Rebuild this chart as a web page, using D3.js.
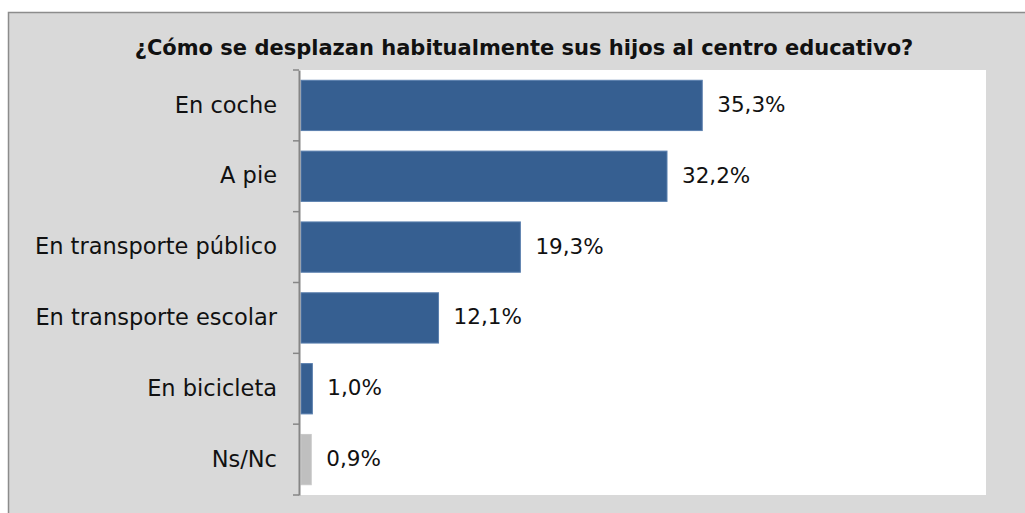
<!DOCTYPE html>
<html>
<head>
<meta charset="utf-8">
<script src="https://cdn.jsdelivr.net/npm/d3@7"></script>
<style>
  html, body { margin: 0; padding: 0; background: #fff; }
</style>
</head>
<body>
<script>
const WIDTH = 1025;
const HEIGHT = 513;

const title = "¿Cómo se desplazan habitualmente sus hijos al centro educativo?";
const categories = ["En coche", "A pie", "En transporte público", "En transporte escolar", "En bicicleta", "Ns/Nc"];
const values = [35.3, 32.2, 19.3, 12.1, 1.0, 0.9];
const barColors = ["#365f91", "#365f91", "#365f91", "#365f91", "#365f91", "#bfbfbf"];
const xDomain = [0, 60];

const FONT = "'DejaVu Sans', sans-serif";
const PLOT = { left: 299, right: 986, top: 70, bottom: 495 };

const data = categories.map((c, i) => ({ cat: c, value: values[i], color: barColors[i] }));

const svg = d3.select("body")
  .append("svg")
  .attr("width", WIDTH)
  .attr("height", HEIGHT);

// chart area background + border
svg.append("rect")
  .attr("x", 8.5)
  .attr("y", 12.5)
  .attr("width", WIDTH + 10)
  .attr("height", HEIGHT + 10)
  .attr("fill", "#d9d9d9")
  .attr("stroke", "#8c8c8c")
  .attr("stroke-width", 1.5);

// plot area
svg.append("rect")
  .attr("x", PLOT.left)
  .attr("y", PLOT.top)
  .attr("width", PLOT.right - PLOT.left)
  .attr("height", PLOT.bottom - PLOT.top)
  .attr("fill", "#ffffff");

const x = d3.scaleLinear().domain(xDomain).range([PLOT.left + 2, PLOT.right - 3]);
const y = d3.scaleBand()
  .domain(categories)
  .range([PLOT.top, PLOT.bottom])
  .paddingInner(0.29)
  .paddingOuter(0.145);

// title
svg.append("text")
  .attr("x", 524)
  .attr("y", 55)
  .attr("text-anchor", "middle")
  .attr("font-family", FONT)
  .attr("font-weight", "bold")
  .attr("font-size", "21px")
  .attr("fill", "#111")
  .text(title);

// bars
svg.append("g")
  .selectAll("rect")
  .data(data)
  .join("rect")
  .attr("x", x(0))
  .attr("y", d => y(d.cat))
  .attr("width", d => x(d.value) - x(0))
  .attr("height", y.bandwidth())
  .attr("fill", d => d.color)
  .attr("stroke", d => d.color === "#bfbfbf" ? "#c8c8c8" : "#5a7fae")
  .attr("stroke-width", 1);

// value labels
svg.append("g")
  .selectAll("text")
  .data(data)
  .join("text")
  .attr("x", d => x(d.value) + 15)
  .attr("y", d => y(d.cat) + y.bandwidth() / 2)
  .attr("dy", "0.3em")
  .attr("font-family", FONT)
  .attr("font-size", "21.5px")
  .attr("fill", "#111")
  .text(d => d.value.toFixed(1).replace(".", ",") + "%");

// category axis
const yAxis = svg.append("g")
  .attr("transform", `translate(${PLOT.left},0)`)
  .call(d3.axisLeft(y).tickSize(0).tickPadding(22));
yAxis.select(".domain")
  .attr("stroke", "#868686")
  .attr("stroke-width", 2);
yAxis.selectAll("text")
  .attr("font-family", FONT)
  .attr("font-size", "22.5px")
  .attr("fill", "#111");

// tick marks between categories
const step = y.step();
const edges = categories.map(c => y(c) - step * y.paddingInner() / 2);
edges.push(y(categories[categories.length - 1]) + y.bandwidth() + step * y.paddingInner() / 2);
yAxis.selectAll(".edge")
  .data(edges)
  .join("line")
  .attr("class", "edge")
  .attr("x1", -6)
  .attr("x2", 0)
  .attr("y1", d => d)
  .attr("y2", d => d)
  .attr("stroke", "#868686")
  .attr("stroke-width", 1.5);
</script>
</body>
</html>
